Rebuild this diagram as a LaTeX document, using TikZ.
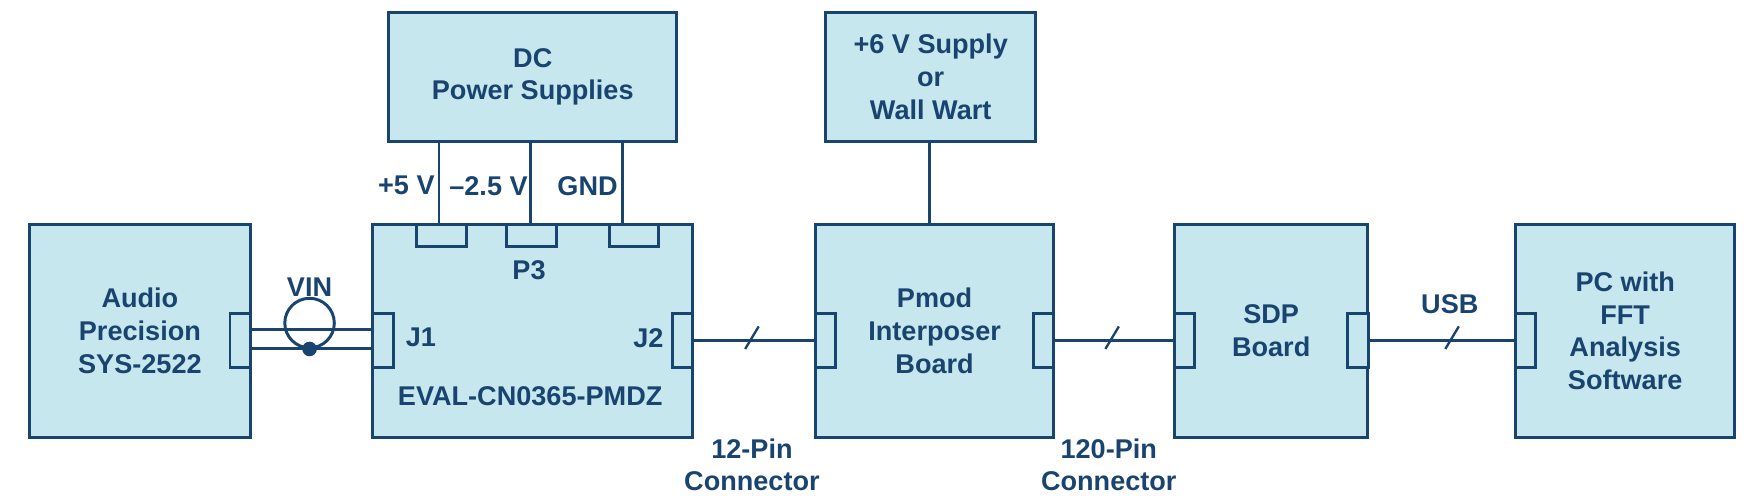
\documentclass[tikz,border=0pt]{standalone}
\usepackage{fontspec}
\setmainfont{Liberation Sans}
\usetikzlibrary{positioning}
\definecolor{boxfill}{HTML}{C6E7EE}
\definecolor{boxline}{HTML}{1A4470}
\begin{document}
\begin{tikzpicture}
[x=0.02cm, y=-0.02cm,
box/.style={draw=boxline, fill=boxfill, line width=1.5pt, anchor=north west, inner sep=0pt,
  align=center, text=boxline, font=\fontsize{13.7}{16.5}\selectfont\bfseries},
pad/.style={draw=boxline, fill=boxfill, line width=1.5pt, anchor=north west, inner sep=0pt,
  minimum width=0.36cm, minimum height=0.96cm},
toppad/.style={draw=boxline, fill=boxfill, line width=1.5pt, anchor=north west, inner sep=0pt,
  minimum width=0.88cm, minimum height=0.4cm},
lbl/.style={text=boxline, font=\fontsize{13.7}{16.5}\selectfont\bfseries, align=center, inner sep=1pt},
wire/.style={draw=boxline, line width=1.5pt},
slash/.style={draw=boxline, line width=1.2pt}]
\useasboundingbox (0,0) rectangle (1560,440);

% boxes
\node (dc) [box, minimum width=5.12cm, minimum height=2.28cm] at (344,10) {DC\\Power Supplies};
\node (six) [box, minimum width=3.74cm, minimum height=2.28cm] at (732,10) {+6 V Supply\\or\\Wall Wart};
\node (ap) [box, minimum width=3.92cm, minimum height=3.78cm] at (25,198) {Audio\\Precision\\SYS-2522};
\node (eval) [box, minimum width=5.68cm, minimum height=3.78cm] at (330,198) {};
\node (pmod) [box, minimum width=4.24cm, minimum height=3.78cm] at (723,198) {Pmod\\Interposer\\Board};
\node (sdp) [box, minimum width=3.44cm, minimum height=3.78cm] at (1042,198) {SDP\\Board};
\node (pc) [box, minimum width=3.90cm, minimum height=3.78cm] at (1345,198) {PC with\\FFT\\Analysis\\Software};

% connectors
\node (apR) [pad] at (203,277) {};
\node (j1) [pad] at (330,277) {};
\node (j2) [pad] at (596,277) {};
\node (pmodL) [pad] at (723,277) {};
\node (pmodR) [pad] at (917,277) {};
\node (sdpL) [pad] at (1042,277) {};
\node (sdpR) [pad] at (1196,277) {};
\node (pcL) [pad] at (1345,277) {};
\node (p3a) [toppad] at (369,198) {};
\node (p3b) [toppad] at (449,198) {};
\node (p3c) [toppad] at (540,198) {};

% supply wires
\coordinate (s1) at (390,124);
\coordinate (s2) at (471,124);
\coordinate (s3) at (553,124);
\coordinate (s6) at (826,124);
\draw [wire] (s1) -- (s1 |- eval.north);
\draw [wire] (s2) -- (s2 |- eval.north);
\draw [wire] (s3) -- (s3 |- eval.north);
\draw [wire] (s6) -- (s6 |- pmod.north);

% VIN
\draw [wire] (apR.east |- 0,293) -- (j1.west |- 0,293);
\draw [wire] (apR.east |- 0,310) -- (j1.west |- 0,310);
\draw [wire] (275,287) circle (0.44cm);
\fill [boxline] (275,310) circle (0.13cm);

% buses
\draw [wire] (j2.east) -- (pmodL.west);
\draw [wire] (pmodR.east) -- (sdpL.west);
\draw [wire] (sdpR.east) -- (pcL.west);
\foreach \sx in {668,988,1290}
  \draw [slash] (\sx-6,310) -- (\sx+6,290);

% labels
\node [lbl] at (361,165) {+5 V};
\node [lbl] at (434,165) {\textendash2.5 V};
\node [lbl] at (522,165) {GND};
\node [lbl] at (470,240) {P3};
\node [lbl] at (374,300) {J1};
\node [lbl] at (576,300) {J2};
\node [lbl] at (471,352) {EVAL-CN0365-PMDZ};
\node [lbl] at (275,255) {VIN};
\node [lbl] at (1288,270) {USB};
\node [lbl] at (668,413) {12-Pin\\Connector};
\node [lbl] at (985,413) {120-Pin\\Connector};
\end{tikzpicture}
\end{document}
